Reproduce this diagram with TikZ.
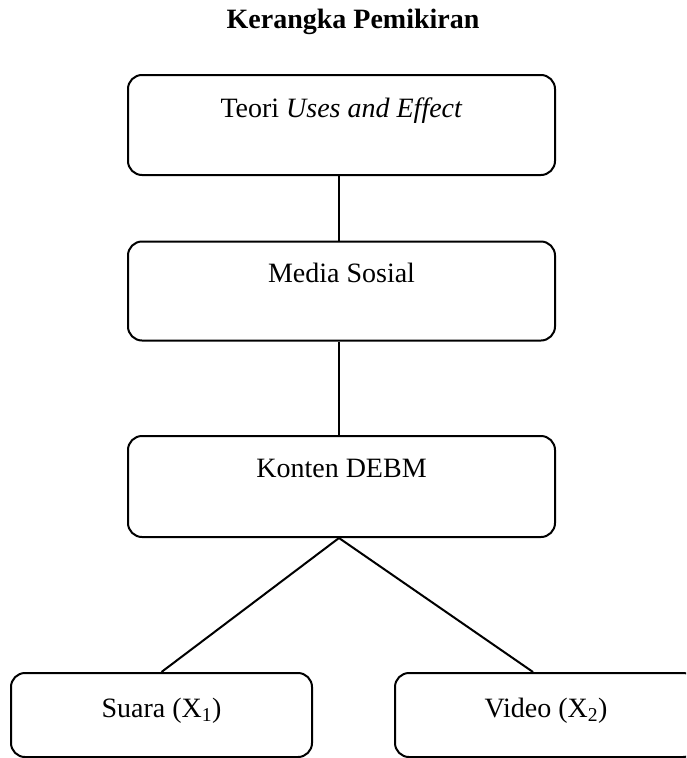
\documentclass[tikz,border=0pt]{standalone}
\usepackage{fontspec}
\setmainfont{Liberation Serif}
\usetikzlibrary{calc}
\begin{document}
\begin{tikzpicture}[x=1pt,y=-1pt,
  boxstyle/.style={draw, line width=2pt, rounded corners=14pt, inner sep=0pt},
  lbl/.style={anchor=base, inner sep=0pt, font=\fontsize{28}{34}\selectfont},
  conn/.style={line width=2pt}]
\useasboundingbox (0,0) rectangle (686,758);
\clip (0,0) rectangle (686,758);
\node[lbl, font=\fontsize{28}{34}\selectfont\bfseries] (title) at (353,28.5) {Kerangka Pemikiran};
% boxes
\node[boxstyle, minimum width=427pt, minimum height=100pt] (b1) at (341.5,125) {};
\node[boxstyle, minimum width=427pt, minimum height=99pt] (b2) at (341.5,291) {};
\node[boxstyle, minimum width=427pt, minimum height=101pt] (b3) at (341.5,486.5) {};
\node[boxstyle, minimum width=301pt, minimum height=84pt] (b4) at (161.5,715) {};
\node[boxstyle, minimum width=302pt, minimum height=84pt] (b5) at (546,715) {};
% labels
\node[lbl] (t1) at ($(b1.north)+(0,43)$) {Teori \textit{Uses and Effect}};
\node[lbl] (t2) at ($(b2.north)+(0,42)$) {Media Sosial};
\node[lbl] (t3) at ($(b3.north)+(0,42)$) {Konten DEBM};
\node[lbl] (t4) at ($(b4.north)+(0,45)$) {Suara (X\textsubscript{1})};
\node[lbl] (t5) at ($(b5.north)+(0,45)$) {Video (X\textsubscript{2})};
% connectors
\coordinate (apex) at ($(b3.south)+(-2.5,0)$);
\coordinate (rend) at ($(b5.north)+(-13,0)$);
\draw[conn] ($(b1.south)+(-2.5,0)$) -- ($(b2.north)+(-2.5,0)$);
\draw[conn] ($(b2.south)+(-2.5,0)$) -- ($(b3.north)+(-2.5,0)$);
\draw[conn] (apex) -- (b4.north);
\draw[conn] (apex) -- (rend);
\end{tikzpicture}
\end{document}
